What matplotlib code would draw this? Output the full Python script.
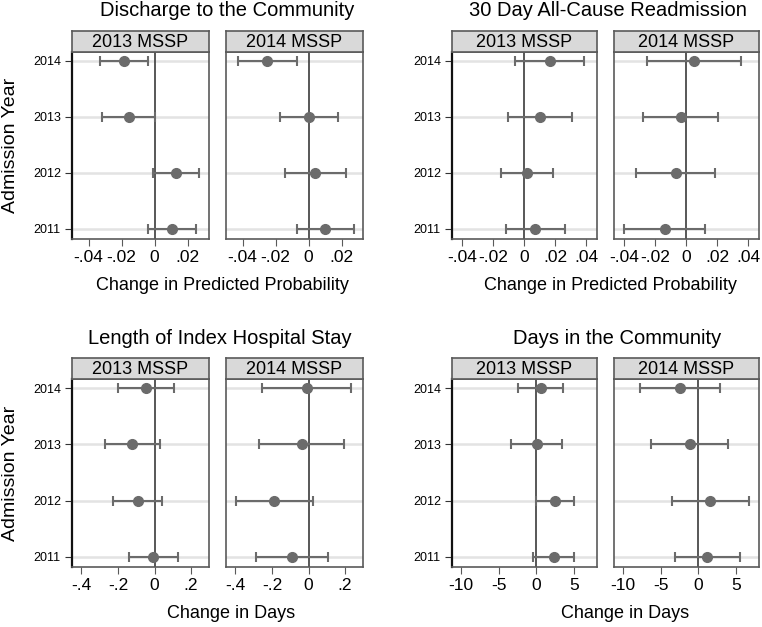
import numpy as np
import matplotlib.pyplot as plt

plt.rcParams['font.family'] = ['Liberation Sans', 'DejaVu Sans']

years = [2011, 2012, 2013, 2014]
cohorts = ["2013 MSSP", "2014 MSSP"]

# Discharge to the Community
dc13_est = [0.0103, 0.0133, -0.0154, -0.0186]
dc13_lo = [-0.0040, -0.0008, -0.0318, -0.0333]
dc13_hi = [0.0250, 0.0270, 0.0000, -0.0039]
dc14_est = [0.0100, 0.0040, 0.0004, -0.0251]
dc14_lo = [-0.0069, -0.0142, -0.0174, -0.0428]
dc14_hi = [0.0273, 0.0224, 0.0178, -0.0069]

# 30 Day All-Cause Readmission
rd13_est = [0.0071, 0.0017, 0.0103, 0.0163]
rd13_lo = [-0.0118, -0.0148, -0.0105, -0.0060]
rd13_hi = [0.0260, 0.0183, 0.0308, 0.0383]
rd14_est = [-0.0137, -0.0064, -0.0036, 0.0049]
rd14_lo = [-0.0400, -0.0321, -0.0282, -0.0255]
rd14_hi = [0.0124, 0.0188, 0.0207, 0.0355]

# Length of Index Hospital Stay
ls13_est = [-0.007, -0.092, -0.123, -0.048]
ls13_lo = [-0.141, -0.225, -0.273, -0.201]
ls13_hi = [0.126, 0.042, 0.029, 0.104]
ls14_est = [-0.089, -0.187, -0.038, -0.009]
ls14_lo = [-0.289, -0.398, -0.273, -0.255]
ls14_hi = [0.105, 0.024, 0.195, 0.233]

# Days in the Community
dy13_est = [2.36, 2.54, 0.09, 0.58]
dy13_lo = [-0.36, 0.00, -3.34, -2.45]
dy13_hi = [5.03, 5.03, 3.47, 3.60]
dy14_est = [1.19, 1.64, -1.15, -2.35]
dy14_lo = [-3.14, -3.54, -6.33, -7.70]
dy14_hi = [5.53, 6.73, 4.03, 2.92]

titles = ["Discharge to the Community", "30 Day All-Cause Readmission",
          "Length of Index Hospital Stay", "Days in the Community"]
xlabels = ["Change in Predicted Probability", "Change in Predicted Probability",
           "Change in Days", "Change in Days"]
panels = [
    [(dc13_est, dc13_lo, dc13_hi), (dc14_est, dc14_lo, dc14_hi)],
    [(rd13_est, rd13_lo, rd13_hi), (rd14_est, rd14_lo, rd14_hi)],
    [(ls13_est, ls13_lo, ls13_hi), (ls14_est, ls14_lo, ls14_hi)],
    [(dy13_est, dy13_lo, dy13_hi), (dy14_est, dy14_lo, dy14_hi)],
]
xticks = [[-0.04, -0.02, 0, 0.02], [-0.04, -0.02, 0, 0.02, 0.04],
          [-0.4, -0.2, 0, 0.2], [-10, -5, 0, 5]]
xticklabels = [["-.04", "-.02", "0", ".02"], ["-.04", "-.02", "0", ".02", ".04"],
               ["-.4", "-.2", "0", ".2"], ["-10", "-5", "0", "5"]]
xlims = [(-0.0500, 0.0330), (-0.0466, 0.0469), (-0.452, 0.298), (-11.2, 8.1)]

W, H = 762, 627
fig = plt.figure(figsize=(W / 100, H / 100), dpi=100)

# panel boxes in pixels: (x0 of left panel, x0 of right panel, width, top of plot, bottom of plot)
layout = [
    (72, 226, 137, 52, 239),
    (452, 614, 145, 52, 239),
    (72, 226, 137, 379, 567),
    (452, 614, 145, 379, 567),
]
title_cx = [227, 608, 220, 617]
xlab_cx = [222, 610, 231, 625]
strip_h = 21
mark_col = "#6b6b6b"
frame_col = "#5a5a5a"


def px_axes(x0, y_top, w, h):
    return fig.add_axes([x0 / W, 1 - (y_top + h) / H, w / W, h / H])


for k in range(4):
    xl, xr, pw, top, bot = layout[k]
    for j, x0 in enumerate([xl, xr]):
        est, lo, hi = panels[k][j]
        ax = px_axes(x0, top, pw, bot - top)
        for y in years:
            ax.axhline(y, color="#e3e3e3", lw=1.8, zorder=0)
        ax.axvline(0, color="#4a4a4a", lw=1.3, zorder=1)
        est = np.array(est)
        err = [est - np.array(lo), np.array(hi) - est]
        ax.errorbar(est, years, xerr=err, fmt="o", color=mark_col, ms=7,
                    elinewidth=1.5, capsize=3.5, capthick=1.5, zorder=3)
        ax.set_xlim(*xlims[k])
        ax.set_ylim(2010.82, 2014.16)
        ax.set_xticks(xticks[k])
        ax.set_xticklabels(xticklabels[k], fontsize=12.5)
        ax.tick_params(axis="x", direction="out", length=5, color=frame_col, pad=3)
        for s in ax.spines.values():
            s.set_color(frame_col)
            s.set_linewidth(1.2)
        if j == 0:
            ax.set_yticks(years)
            ax.set_yticklabels([str(y) for y in years], fontsize=9)
            ax.tick_params(axis="y", direction="out", length=5, color="#333333", pad=3)
            ax.spines["left"].set_color("#111111")
            ax.spines["left"].set_linewidth(1.6)
        else:
            ax.set_yticks([])
        # strip header
        sx = px_axes(x0, top - strip_h, pw, strip_h)
        sx.set_facecolor("#d9d9d9")
        sx.set_xticks([])
        sx.set_yticks([])
        for s in sx.spines.values():
            s.set_color(frame_col)
            s.set_linewidth(1.2)
        sx.text(0.5, 0.45, cohorts[j], ha="center", va="center", fontsize=13,
                transform=sx.transAxes)
    fig.text(title_cx[k] / W, 1 - (top - 41) / H, titles[k], ha="center", va="center",
             fontsize=14.5)
    fig.text(xlab_cx[k] / W, 1 - (bot + 46) / H, xlabels[k], ha="center", va="center",
             fontsize=13)
    if k in (0, 2):
        fig.text(11 / W, 1 - ((top + bot) / 2) / H, "Admission Year", rotation=90,
                 ha="center", va="center", fontsize=14)

plt.savefig("out.png", dpi=100)
